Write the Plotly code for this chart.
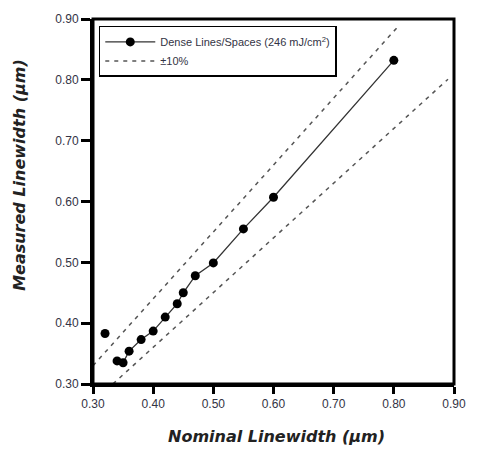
import plotly.graph_objects as go

nominal = [0.32, 0.34, 0.35, 0.36, 0.38, 0.40, 0.42, 0.44, 0.45, 0.47, 0.50, 0.55, 0.60, 0.80]
measured = [0.383, 0.338, 0.335, 0.354, 0.373, 0.387, 0.410, 0.432, 0.450, 0.478, 0.499, 0.555, 0.607, 0.832]

upper_x = [0.30, 0.81]
upper_y = [0.330, 0.891]
lower_x = [0.333, 0.89]
lower_y = [0.300, 0.801]

FONT = "Liberation Sans, Arial, sans-serif"
TFONT = "DejaVu Sans, sans-serif"

# first point is isolated (not joined by the line)
line_x = [nominal[0], None] + nominal[1:]
line_y = [measured[0], None] + measured[1:]

fig = go.Figure()
fig.add_trace(go.Scatter(
    x=line_x, y=line_y, mode="lines+markers", connectgaps=False,
    line=dict(color="#333333", width=1.3),
    marker=dict(color="black", size=9),
    name="Dense Lines/Spaces (246 mJ/cm<sup>2</sup>)",
))
fig.add_trace(go.Scatter(
    x=upper_x, y=upper_y, mode="lines",
    line=dict(color="#555555", width=1.5, dash="4px,5px"),
    name="±10%", legendgroup="tol",
))
fig.add_trace(go.Scatter(
    x=lower_x, y=lower_y, mode="lines",
    line=dict(color="#555555", width=1.5, dash="4px,5px"),
    name="±10%", legendgroup="tol", showlegend=False,
))

W, H = 478, 450
L, R, T, B = 93, 17, 13, 66
pw, ph = W - L - R, H - T - B

def major_axis(ticklen):
    return dict(
        ticks="outside", ticklen=ticklen, tickwidth=3, tickcolor="black",
        showline=True, linewidth=3, linecolor="black",
        range=[0.30, 0.90], dtick=0.10, tickformat=".2f",
        tickfont=dict(family=FONT, size=12, color="#333344"),
    )

def minor_axis(over, side, anchor):
    return dict(
        overlaying=over, side=side, anchor=anchor,
        ticks="outside", ticklen=5, tickwidth=3, tickcolor="black",
        showline=True, linewidth=3, linecolor="black",
        range=[0.30, 0.90], dtick=0.02, showticklabels=False,
        showgrid=False, zeroline=False,
    )

fig.update_layout(
    width=W, height=H,
    margin=dict(l=L, r=R, t=T, b=B),
    paper_bgcolor="white", plot_bgcolor="white",
    showlegend=True,
    legend=dict(
        x=0.016, y=0.981, xanchor="left", yanchor="top",
        bordercolor="black", borderwidth=1.5, bgcolor="white",
        font=dict(family=FONT, size=11, color="#333344"),
        itemwidth=50, tracegroupgap=0,
    ),
    xaxis=major_axis(7),
    yaxis=major_axis(9),
    xaxis2=minor_axis("x", "bottom", "y"),
    yaxis2=minor_axis("y", "left", "x"),
    shapes=[dict(type="rect", xref="paper", yref="paper", x0=0, y0=0, x1=1, y1=1,
                 line=dict(color="black", width=3), layer="above")],
    annotations=[
        dict(text="<b><i>Nominal Linewidth (µm)</i></b>", xref="paper", yref="paper",
             x=(280 - L) / pw, y=-(437 - (H - B)) / ph, xanchor="center", yanchor="middle",
             showarrow=False, font=dict(family=TFONT, size=16, color="#222222")),
        dict(text="<b><i>Measured Linewidth (µm)</i></b>", xref="paper", yref="paper",
             x=(18 - L) / pw, y=((H - B) - 171) / ph, xanchor="center", yanchor="middle",
             textangle=-90, showarrow=False, font=dict(family=TFONT, size=16, color="#222222")),
    ],
)

fig.write_html("out.html", config={"displayModeBar": False},
               post_script="document.body.style.margin='0px';")
